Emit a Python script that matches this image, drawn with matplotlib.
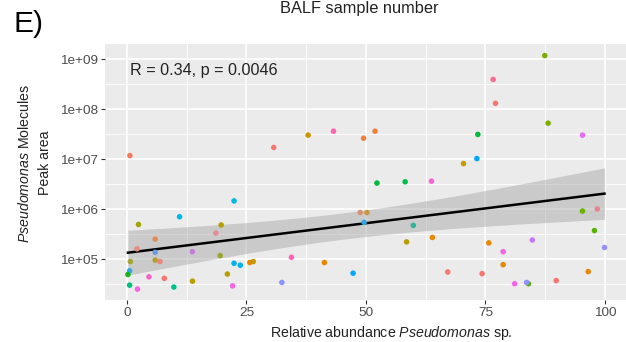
import numpy as np
import matplotlib.pyplot as plt
from matplotlib.ticker import FixedLocator, NullFormatter

plt.rcParams['font.family'] = ['Liberation Sans', 'DejaVu Sans']
plt.rcParams['mathtext.fontset'] = 'custom'
plt.rcParams['mathtext.rm'] = 'Liberation Sans'
plt.rcParams['mathtext.it'] = 'Liberation Sans:italic'


# Relative abundance (%) and peak area per BALF sample
abundance = [0.6, 22.4, 2.4, 11.0, 19.7, 18.6, 5.9, 2.1, 5.9, 13.7,
             0.7, 5.9, 6.9, 19.5, 22.4, 0.55, 0.2, 4.6, 7.8, 21.0,
             0.55, 2.2, 9.8, 13.7, 22.1, 30.7, 37.9, 43.2, 23.7, 25.7,
             26.4, 34.4, 41.3, 32.4, 47.3, 49.5, 51.9, 73.4, 70.4, 73.2,
             52.3, 58.2, 63.7, 48.8, 50.2, 49.6, 59.9, 58.5, 63.9, 67.1,
             74.3, 87.4, 76.6, 77.1, 88.1, 95.3, 95.3, 98.4, 97.8, 75.7,
             84.8, 78.7, 99.9, 78.7, 81.1, 84.0, 83.6, 89.8, 96.5]

peak_area = [1.17e7, 1.45e6, 4.9e5, 7.0e5, 4.8e5, 3.3e5, 2.5e5, 1.6e5, 1.36e5, 1.4e5,
             8.9e4, 9.5e4, 8.9e4, 1.17e5, 8.2e4, 5.8e4, 4.9e4, 4.4e4, 4.1e4, 5.0e4,
             3.0e4, 2.5e4, 2.75e4, 3.6e4, 2.9e4, 1.7e7, 3.0e7, 3.6e7, 7.5e4, 8.5e4,
             8.9e4, 1.08e5, 8.5e4, 3.4e4, 5.2e4, 2.6e7, 3.6e7, 3.1e7, 8.1e6, 1.02e7,
             3.3e6, 3.5e6, 3.6e6, 8.5e5, 8.5e5, 5.4e5, 4.7e5, 2.2e5, 2.7e5, 5.5e4,
             5.1e4, 1.17e9, 3.9e8, 1.3e8, 5.2e7, 3.0e7, 9.1e5, 1.0e6, 3.7e5, 2.1e5,
             2.4e5, 1.4e5, 1.7e5, 7.7e4, 3.2e4, 3.2e4, 3.4e4, 3.7e4, 5.6e4]

sample_colour = ['#F37B59', '#00B9E3', '#A3A500', '#00B9E3', '#B79F00', '#E38A9E', '#DE8C56', '#E88A80', '#6D9BE0', '#C77CDD',
                 '#A3A530', '#B3A030', '#E8877A', '#9AA530', '#00B4E8', '#2FA8E8', '#1DB31D', '#F562C8', '#F8766D', '#B79F00',
                 '#00BF7D', '#F564E3', '#00C08B', '#B79F00', '#F564E3', '#F8766D', '#C99800', '#FF64B0', '#00B4F0', '#E58700',
                 '#C99800', '#FF62BC', '#E58700', '#8B93FF', '#00A9FF', '#F07E40', '#EC8239', '#00BA38', '#C99800', '#00A9FF',
                 '#00BA38', '#00BC4A', '#FB61D7', '#D9907A', '#C49A40', '#2AA8E8', '#2DB59A', '#B3A000', '#E58700', '#F8766D',
                 '#F8766D', '#7CAE00', '#FF6C91', '#F8766D', '#7CAE00', '#E76BF3', '#6BB100', '#E48591', '#53B400', '#E58700',
                 '#C77CFF', '#F564E3', '#9590FF', '#E58700', '#F564E3', '#53B400', '#9590FF', '#F8766D', '#E58700']

x = np.array(abundance)
ly = np.log10(np.array(peak_area))

# linear fit on log10 scale with 95% confidence band
n = len(x)
slope, icpt = np.polyfit(x, ly, 1)
resid = ly - (icpt + slope * x)
s = np.sqrt(np.sum(resid**2) / (n - 2))
xs = np.linspace(x.min(), x.max(), 100)
se = s * np.sqrt(1 / n + (xs - x.mean())**2 / np.sum((x - x.mean())**2))
t = 1.996
fit = icpt + slope * xs

fig = plt.figure(figsize=(6.26, 3.42), dpi=100)
ax = fig.add_axes([105 / 626, 42 / 342, 521 / 626, 256 / 342])
ax.set_facecolor('#EBEBEB')

ax.fill_between(xs, 10**(fit - t * se), 10**(fit + t * se), color='#999999', alpha=0.4, lw=0, zorder=2)
ax.plot(xs, 10**fit, color='black', lw=1.8, zorder=3)
ax.scatter(x, 10**ly, c=sample_colour, s=16, lw=0, zorder=4)

ax.set_yscale('log')
ax.set_xlim(-4.6, 104.4)
ax.set_ylim(10**4.18, 10**9.3)

ax.set_xticks([0, 25, 50, 75, 100])
ax.xaxis.set_minor_locator(FixedLocator([12.5, 37.5, 62.5, 87.5]))
ax.set_yticks([1e5, 1e6, 1e7, 1e8, 1e9])
ax.set_yticklabels(['1e+05', '1e+06', '1e+07', '1e+08', '1e+09'])
ax.yaxis.set_minor_locator(FixedLocator([10**4.5, 10**5.5, 10**6.5, 10**7.5, 10**8.5]))
ax.yaxis.set_minor_formatter(NullFormatter())

ax.grid(True, which='major', color='white', lw=1.2, zorder=1)
ax.grid(True, which='minor', color='white', lw=0.6, zorder=1)
ax.set_axisbelow(True)
for sp in ax.spines.values():
    sp.set_visible(False)
ax.tick_params(which='major', length=3, width=0.8, color='#333333',
               labelsize=9.7, labelcolor='#4D4D4D', pad=2)
ax.tick_params(which='minor', length=0)

ax.text(0.6, 10**8.78, 'R = 0.34, p = 0.0046', fontsize=11.6, color='#222222', va='center')

fig.text(391 / 626, 1 - 333 / 342, r'Relative abundance $\mathit{Pseudomonas}$ sp.',
         ha='center', va='center', fontsize=10.2, color='#222222')
fig.text(25 / 626, 1 - 163 / 342, r'$\mathit{Pseudomonas}$ Molecules', rotation=90,
         ha='center', va='center', fontsize=10.2, color='#222222')
fig.text(45 / 626, 1 - 163 / 342, 'Peak area', rotation=90,
         ha='center', va='center', fontsize=10.2, color='#222222')
fig.text(359 / 626, 1 - 9 / 342, 'BALF sample number', ha='center', va='center',
         fontsize=11.8, color='#222222')
fig.text(14 / 626, 1 - 24 / 342, 'E)', ha='left', va='center', fontsize=21.5, color='black')

fig.savefig('out.png', dpi=100)
